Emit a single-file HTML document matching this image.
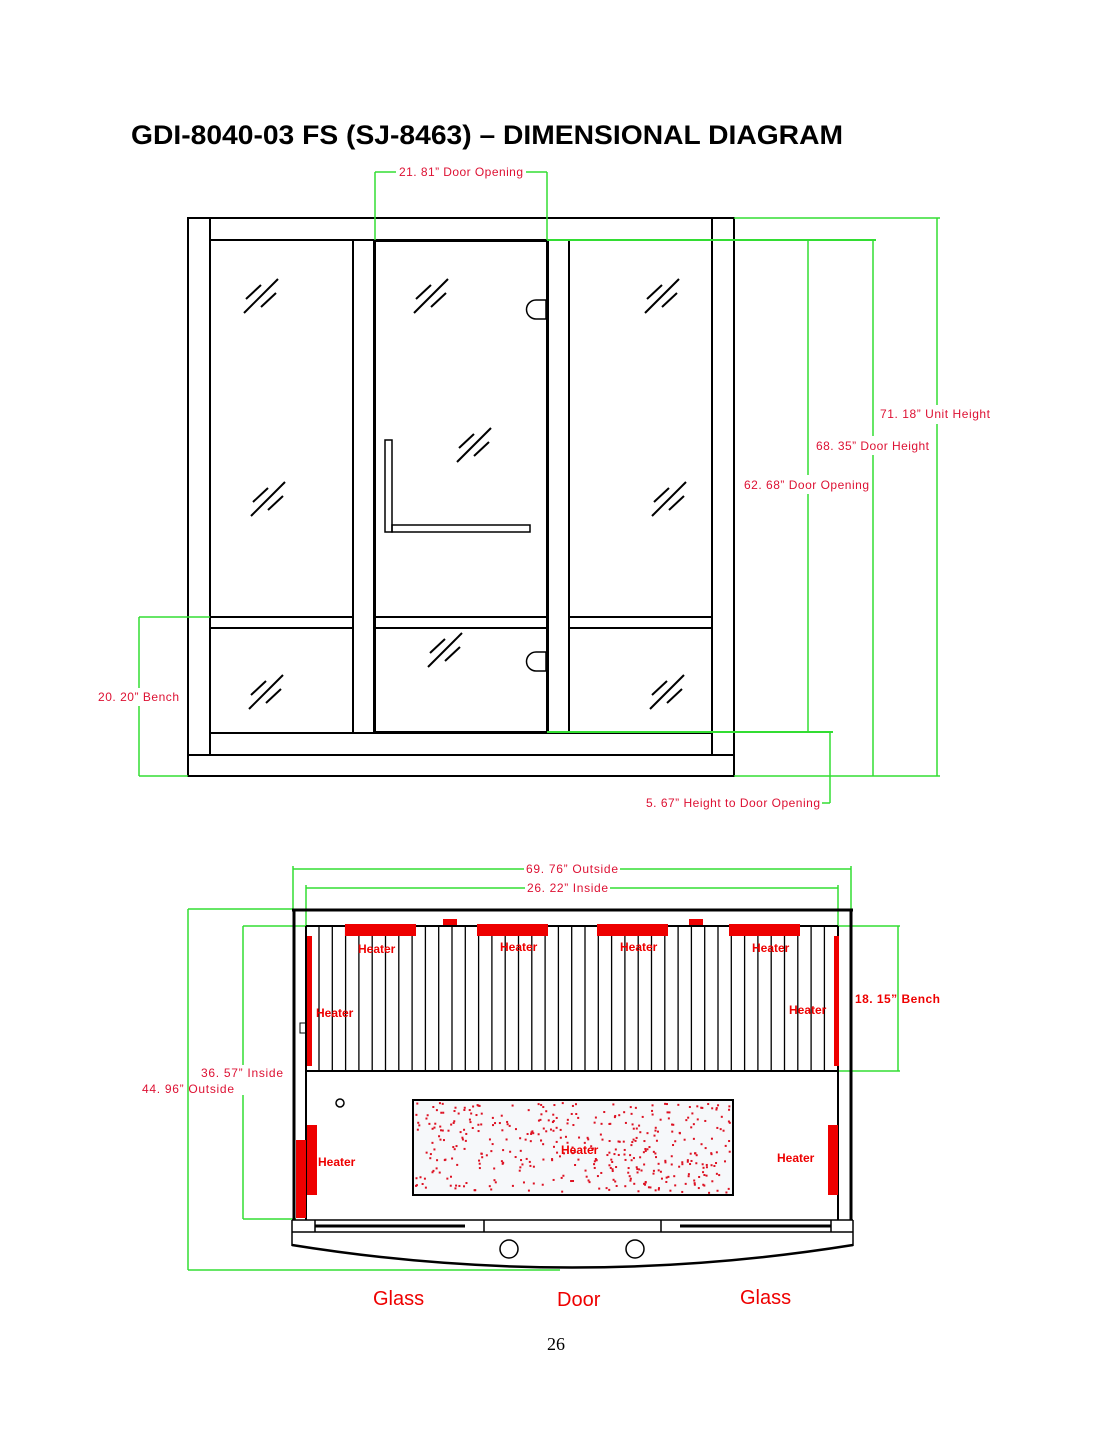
<!DOCTYPE html>
<html><head><meta charset="utf-8"><style>
html,body{margin:0;padding:0;background:#fff}
svg{display:block}
.t{font-family:"Liberation Sans",sans-serif}
</style></head><body>
<svg id="s" width="1114" height="1441" viewBox="0 0 1114 1441" xmlns="http://www.w3.org/2000/svg">
<rect width="1114" height="1441" fill="#fff"/>
<text x="131" y="144" class="t" font-size="27" font-weight="bold" fill="#000" textLength="712" lengthAdjust="spacingAndGlyphs">GDI-8040-03 FS (SJ-8463) – DIMENSIONAL DIAGRAM</text>

<!-- FRONT VIEW -->
<g stroke="#000" stroke-width="2" fill="none">
<rect x="188" y="218" width="546" height="558"/>
<line x1="210" y1="218" x2="210" y2="755"/>
<line x1="712" y1="218" x2="712" y2="755"/>
<line x1="210" y1="240" x2="712" y2="240"/>
<line x1="188" y1="755" x2="734" y2="755"/>
<line x1="210" y1="733" x2="712" y2="733"/>
<line x1="353" y1="240" x2="353" y2="733"/>
<line x1="569" y1="240" x2="569" y2="733"/>
<rect x="374.5" y="240.5" width="173" height="492" stroke-width="3"/>
<line x1="210" y1="617" x2="353" y2="617"/><line x1="210" y1="628" x2="353" y2="628"/>
<line x1="374" y1="617" x2="547" y2="617"/><line x1="374" y1="628" x2="547" y2="628"/>
<line x1="569" y1="617" x2="712" y2="617"/><line x1="569" y1="628" x2="712" y2="628"/>
<rect x="385" y="440" width="7" height="92" stroke-width="1.5"/>
<rect x="392" y="525" width="138" height="7" stroke-width="1.5"/>
<path d="M546 300 h-10 a8 8 0 0 0 0 19 h10 z" stroke-width="1.5"/>
<path d="M546 652 h-10 a8 8 0 0 0 0 19 h10 z" stroke-width="1.5"/>
</g>
<defs>
<g id="gl"><line x1="0" y1="0" x2="34" y2="-34"/><line x1="2" y1="-14" x2="17" y2="-28"/><line x1="17" y1="-6" x2="32" y2="-20"/></g>
</defs>
<g stroke="#000" stroke-width="2">
<use href="#gl" x="244" y="313"/><use href="#gl" x="414" y="313"/><use href="#gl" x="645" y="313"/>
<use href="#gl" x="457" y="462"/><use href="#gl" x="251" y="516"/><use href="#gl" x="652" y="516"/>
<use href="#gl" x="428" y="667"/><use href="#gl" x="249" y="709"/><use href="#gl" x="650" y="709"/>
</g>
<g stroke="#33dd33" stroke-width="1.5" fill="none">
<line x1="375" y1="172" x2="375" y2="240"/><line x1="547" y1="172" x2="547" y2="240"/>
<line x1="375" y1="172" x2="396" y2="172"/><line x1="526" y1="172" x2="547" y2="172"/>
<line x1="734" y1="218" x2="940" y2="218"/><line x1="734" y1="776" x2="940" y2="776"/>
<line x1="547" y1="240" x2="876" y2="240" stroke-width="2"/>
<line x1="547" y1="732" x2="833" y2="732" stroke-width="2"/>
<line x1="937" y1="218" x2="937" y2="405"/><line x1="937" y1="424" x2="937" y2="776"/>
<line x1="873" y1="240" x2="873" y2="436"/><line x1="873" y1="455" x2="873" y2="776"/>
<line x1="808" y1="240" x2="808" y2="475"/><line x1="808" y1="494" x2="808" y2="732"/>
<line x1="830" y1="732" x2="830" y2="803"/><line x1="822" y1="803" x2="830" y2="803"/>
<line x1="139" y1="617" x2="210" y2="617"/><line x1="139" y1="776" x2="188" y2="776"/>
<line x1="139" y1="617" x2="139" y2="688"/><line x1="139" y1="706" x2="139" y2="776"/>
</g>
<g class="t" font-size="12" fill="#dd1133" lengthAdjust="spacing">
<text x="399" y="176" textLength="124">21. 81”  Door Opening</text>
<text x="880" y="418" textLength="110">71. 18”  Unit Height</text>
<text x="816" y="450" textLength="113">68. 35”  Door Height</text>
<text x="744" y="489" textLength="125">62. 68”  Door Opening</text>
<text x="646" y="807" textLength="174">5. 67”  Height to Door Opening</text>
<text x="98" y="701" textLength="81">20. 20”  Bench</text>
</g>

<!-- TOP VIEW -->
<g stroke="#33dd33" stroke-width="1.5" fill="none">
<line x1="293" y1="869" x2="524" y2="869"/><line x1="620" y1="869" x2="851" y2="869"/>
<line x1="306" y1="888" x2="525" y2="888"/><line x1="610" y1="888" x2="838" y2="888"/>
<line x1="293" y1="866" x2="293" y2="910"/><line x1="851" y1="866" x2="851" y2="910"/>
<line x1="306" y1="885" x2="306" y2="926"/><line x1="838" y1="885" x2="838" y2="926"/>
<line x1="188" y1="909" x2="293" y2="909"/><line x1="188" y1="1270" x2="560" y2="1270"/>
<line x1="188" y1="909" x2="188" y2="1270"/>
<line x1="243" y1="926" x2="306" y2="926"/><line x1="243" y1="1219" x2="296" y2="1219"/>
<line x1="243" y1="926" x2="243" y2="1065"/><line x1="243" y1="1095" x2="243" y2="1219"/>
<line x1="838" y1="926" x2="900" y2="926"/><line x1="838" y1="1071" x2="900" y2="1071"/>
<line x1="898" y1="926" x2="898" y2="1071"/>
</g>
<g stroke="#000" fill="none">
<line x1="292" y1="910" x2="853" y2="910" stroke-width="3"/>
<line x1="294" y1="910" x2="294" y2="1220" stroke-width="3"/>
<line x1="851" y1="910" x2="851" y2="1220" stroke-width="3"/>
<line x1="306" y1="926" x2="306" y2="1220" stroke-width="2"/>
<line x1="838" y1="926" x2="838" y2="1220" stroke-width="2"/>
<line x1="306" y1="926" x2="838" y2="926" stroke-width="2"/>
<line x1="306" y1="1071" x2="838" y2="1071" stroke-width="2"/>
<line x1="292" y1="1220" x2="853" y2="1220" stroke-width="1.5"/>
<line x1="292" y1="1232" x2="853" y2="1232" stroke-width="1.5"/>
<line x1="292" y1="1220" x2="292" y2="1246" stroke-width="1.5"/>
<line x1="853" y1="1220" x2="853" y2="1246" stroke-width="1.5"/>
<line x1="315" y1="1220" x2="315" y2="1232" stroke-width="1.5"/>
<line x1="484" y1="1220" x2="484" y2="1232" stroke-width="1.5"/>
<line x1="661" y1="1220" x2="661" y2="1232" stroke-width="1.5"/>
<line x1="831" y1="1220" x2="831" y2="1232" stroke-width="1.5"/>
<line x1="315" y1="1226" x2="465" y2="1226" stroke-width="3"/>
<line x1="680" y1="1226" x2="831" y2="1226" stroke-width="3"/>
<path d="M292 1245 Q572 1290 853 1245" stroke-width="2.5"/>
<circle cx="509" cy="1249" r="9" stroke-width="1.5"/>
<circle cx="635" cy="1249" r="9" stroke-width="1.5"/>
<circle cx="340" cy="1103" r="4" stroke-width="1.5"/>
<rect x="300" y="1023" width="6" height="10" stroke-width="1"/>
<rect x="413" y="1100" width="320" height="95" stroke-width="2" fill="#f6f8fa"/>
</g>
<g id="slats" stroke="#000" stroke-width="1.3"></g>
<g fill="#ee0000">
<rect x="345" y="924" width="71" height="12"/><rect x="477" y="924" width="71" height="12"/>
<rect x="597" y="924" width="71" height="12"/><rect x="729" y="924" width="71" height="12"/>
<rect x="443" y="919" width="14" height="6"/><rect x="689" y="919" width="14" height="6"/>
<rect x="307" y="936" width="5" height="130"/><rect x="834" y="936" width="5" height="130"/>
<rect x="307" y="1125" width="10" height="70"/><rect x="828" y="1125" width="10" height="70"/>
<rect x="296" y="1140" width="10" height="78"/>
</g>
<g id="dots" fill="#dd1122"></g>
<g class="t" font-size="12" font-weight="bold" fill="#ee0000">
<text x="358" y="953">Heater</text><text x="500" y="951">Heater</text>
<text x="620" y="951">Heater</text><text x="752" y="952">Heater</text>
<text x="316" y="1017">Heater</text><text x="789" y="1014">Heater</text>
<text x="318" y="1166">Heater</text><text x="561" y="1154">Heater</text>
<text x="777" y="1162">Heater</text>
<text x="855" y="1003" textLength="85">18. 15”  Bench</text>
</g>
<g class="t" font-size="12" fill="#dd1133">
<text x="526" y="873" textLength="92">69. 76”  Outside</text>
<text x="527" y="892" textLength="81">26. 22”  Inside</text>
<text x="201" y="1077" textLength="82">36. 57”  Inside</text>
<text x="142" y="1093" textLength="92">44. 96”  Outside</text>
</g>
<g class="t" font-size="20" fill="#ee0000">
<text x="373" y="1305">Glass</text><text x="557" y="1306">Door</text><text x="740" y="1304">Glass</text>
</g>
<text x="547" y="1350" font-family="Liberation Serif,serif" font-size="18" fill="#000">26</text>
</svg>
<script>
var ns="http://www.w3.org/2000/svg";
var g=document.getElementById("slats");
for(var x=319;x<836;x+=13.3){var l=document.createElementNS(ns,"line");l.setAttribute("x1",x);l.setAttribute("x2",x);l.setAttribute("y1",926);l.setAttribute("y2",1071);g.appendChild(l);}
var d=document.getElementById("dots"),s=7;
function r(){s=(s*16807)%2147483647;return s/2147483647;}
for(var i=0;i<420;i++){var c=document.createElementNS(ns,"rect");c.setAttribute("x",415+r()*315);c.setAttribute("y",1102+r()*90);c.setAttribute("width",2);c.setAttribute("height",2);d.appendChild(c);}
</script>
</body></html>
